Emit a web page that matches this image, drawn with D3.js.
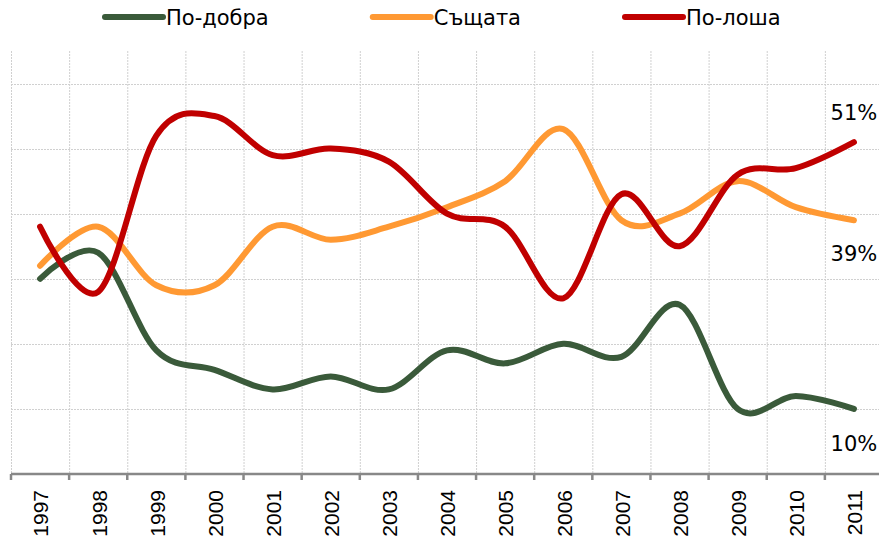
<!DOCTYPE html>
<html>
<head>
<meta charset="utf-8">
<script src="https://cdn.jsdelivr.net/npm/d3@7/dist/d3.min.js"></script>
<style>
  body { margin: 0; background: #fff; }
  svg { display: block; font-family: "DejaVu Sans", Verdana, sans-serif; }
</style>
</head>
<body>
<svg id="chart" width="879" height="545"></svg>
<script>
// years on the category axis
const years = ["1997", "1998", "1999", "2000", "2001", "2002", "2003", "2004",
  "2005", "2006", "2007", "2008", "2009", "2010", "2011"];

// share of answers, %
const better = [30, 34, 19, 16, 13, 15, 13, 19, 17, 20, 18, 26, 10, 12, 10];
const same   = [32, 38, 29, 29, 38, 36, 38, 41, 45, 53, 39, 40, 45, 41, 39];
const worse  = [38, 28, 52, 55, 49, 50, 48, 40, 38, 27, 43, 35, 46, 47, 51];

const seriesNames = ["По-добра", "Същата", "По-лоша"];
const seriesColors = ["#3a5a3a", "#ff9933", "#c00000"];
const endLabels = ["10%", "39%", "51%"];
const yGrid = [10, 20, 30, 40, 50, 60];

const svg = d3.select("#chart");
const width = 879, height = 545;

const x = d3.scaleBand().domain(years).range([11, 883]).padding(0);
const y = d3.scaleLinear().domain([0, 65]).range([474, 51]);
const cx = d => x(d) + x.bandwidth() / 2;

// grid
const grid = svg.append("g").attr("class", "grid");
grid.selectAll(".vgrid")
  .data(years)
  .enter().append("line")
    .attr("x1", d => x(d) + 0.5).attr("x2", d => x(d) + 0.5)
    .attr("y1", 51).attr("y2", 474)
    .attr("stroke", "#d0d0d0").attr("stroke-dasharray", "2,1");
grid.selectAll(".hgrid")
  .data(yGrid)
  .enter().append("line")
    .attr("x1", 11).attr("x2", width)
    .attr("y1", d => Math.round(y(d)) + 0.5).attr("y2", d => Math.round(y(d)) + 0.5)
    .attr("stroke", "#d0d0d0").attr("stroke-dasharray", "2,1");

// category axis
const xAxis = svg.append("g")
  .attr("transform", `translate(0,${y(0)})`)
  .call(d3.axisBottom(x).tickSize(0).tickPadding(0));
xAxis.select(".domain").remove();
xAxis.append("line")
  .attr("x1", 11).attr("x2", width)
  .attr("stroke", "#888").attr("stroke-width", 2.5);
xAxis.selectAll(".edge")
  .data(years.concat(["end"]))
  .enter().append("line")
    .attr("x1", (d, i) => 11 + i * x.bandwidth()).attr("x2", (d, i) => 11 + i * x.bandwidth())
    .attr("y1", 0).attr("y2", 6)
    .attr("stroke", "#888").attr("stroke-width", 2.5);
xAxis.selectAll(".tick text")
  .attr("font-size", 21)
  .attr("fill", "#000")
  .attr("text-anchor", "end")
  .attr("transform", "translate(1,16) rotate(-90)")
  .attr("dx", 0).attr("dy", "0.35em");

// lines, smoothed like the original
const data = [better, same, worse];
const line = d3.line()
  .x((d, i) => cx(years[i]))
  .y(d => y(d))
  .curve(d3.curveCatmullRom.alpha(0));

svg.append("g").selectAll("path")
  .data(data)
  .enter().append("path")
    .attr("d", line)
    .attr("fill", "none")
    .attr("stroke", (d, i) => seriesColors[i])
    .attr("stroke-width", 6)
    .attr("stroke-linecap", "round")
    .attr("stroke-linejoin", "round");

// end labels
const last = years.length - 1;
const labelOffsets = [42, 41, -22];
svg.append("g").selectAll("text")
  .data(data)
  .enter().append("text")
    .attr("x", cx(years[last]))
    .attr("y", (d, i) => y(d[last]) + labelOffsets[i])
    .attr("text-anchor", "middle")
    .attr("font-size", 21)
    .attr("fill", "#000")
    .text((d, i) => endLabels[i]);

// legend
const legend = svg.append("g");
let lx = 105;
seriesNames.forEach((name, i) => {
  const g = legend.append("g");
  g.append("line")
    .attr("x1", lx).attr("x2", lx + 58)
    .attr("y1", 17).attr("y2", 17)
    .attr("stroke", seriesColors[i]).attr("stroke-width", 6)
    .attr("stroke-linecap", "round");
  const t = g.append("text")
    .attr("x", lx + 61).attr("y", 25)
    .attr("font-size", 21)
    .attr("fill", "#000")
    .text(name);
  lx += 61 + t.node().getComputedTextLength() + 104;
});
</script>
</body>
</html>
